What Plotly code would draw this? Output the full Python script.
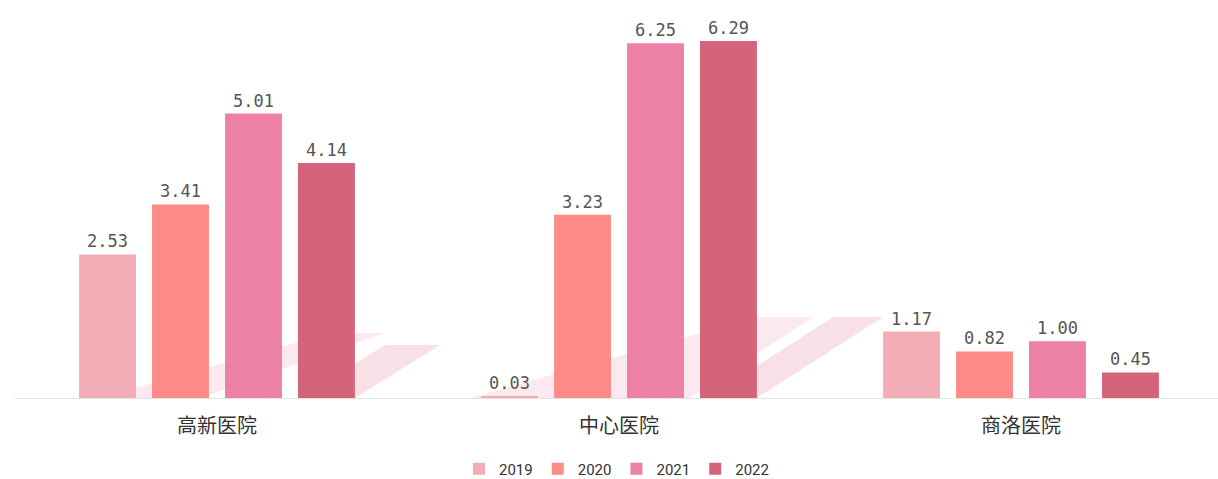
import plotly.graph_objects as go

categories = ["高新医院", "中心医院", "商洛医院"]
years = ["2019", "2020", "2021", "2022"]
v2019 = [2.53, 0.03, 1.17]
v2020 = [3.41, 3.23, 0.82]
v2021 = [5.01, 6.25, 1.00]
v2022 = [4.14, 6.29, 0.45]
series = [v2019, v2020, v2021, v2022]
colors = ["#f3adb7", "#fd8b88", "#ec80a6", "#d36479"]

W, H = 1218, 479
ML, MR, MT, MB = 15, 0, 12, 81

fig = go.Figure()
for name, vals, c in zip(years, series, colors):
    fig.add_trace(go.Bar(
        x=categories, y=vals, name=name,
        marker=dict(color=c, line=dict(width=0)),
        texttemplate="%{y:.2f}", textposition="outside",
        textfont=dict(family="DejaVu Sans Mono", size=17, color="#555555"),
        cliponaxis=False,
    ))

# decorative faint parallelograms (paper coords from pixels)
pw = W - ML - MR
ph = H - MT - MB
def px(x):
    return (x - ML) / pw
def py(y):
    return (H - MB - y) / ph
def poly(pts, color):
    d = "M " + " L ".join(f"{px(x)},{py(y)}" for x, y in pts) + " Z"
    fig.add_shape(type="path", path=d, xref="paper", yref="paper",
                  fillcolor=color, line=dict(width=0), layer="below")

light = "rgba(250,215,225,0.55)"
dark = "rgba(240,200,210,0.55)"
poly([(100, 398), (330, 333), (385, 333), (200, 398)], light)
poly([(300, 398), (385, 345), (440, 345), (355, 398)], dark)
poly([(470, 398), (757, 317), (813, 317), (690, 398)], light)
poly([(707, 398), (833, 317), (883, 317), (757, 398)], dark)

cat_px = 402.0
x0 = -(217 - ML) / cat_px
x1 = x0 + pw / cat_px

fig.update_layout(
    width=W, height=H,
    margin=dict(l=ML, r=MR, t=MT, b=MB, autoexpand=False),
    paper_bgcolor="white", plot_bgcolor="white",
    barmode="group", bargap=0.274, bargroupgap=0.22,
    showlegend=True,
    legend=dict(orientation="h", x=0.5, xanchor="center", y=-0.184, yanchor="middle",
                font=dict(family="Roboto", size=15, color="#333333"),
                itemwidth=30, traceorder="normal"),
    xaxis=dict(range=[x0, x1], showline=True, linecolor="#e3e3e3", linewidth=1,
               showgrid=False, zeroline=False, ticks="",
               tickfont=dict(family="Noto Sans CJK SC", size=20, color="#333333"),
               ticklabelstandoff=10),
    yaxis=dict(range=[0, 6.8], visible=False, showgrid=False, zeroline=False),
)

fig.write_html("out.html", config={"displayModeBar": False},
               post_script="document.body.style.margin='0px';document.body.style.overflow='hidden';")
